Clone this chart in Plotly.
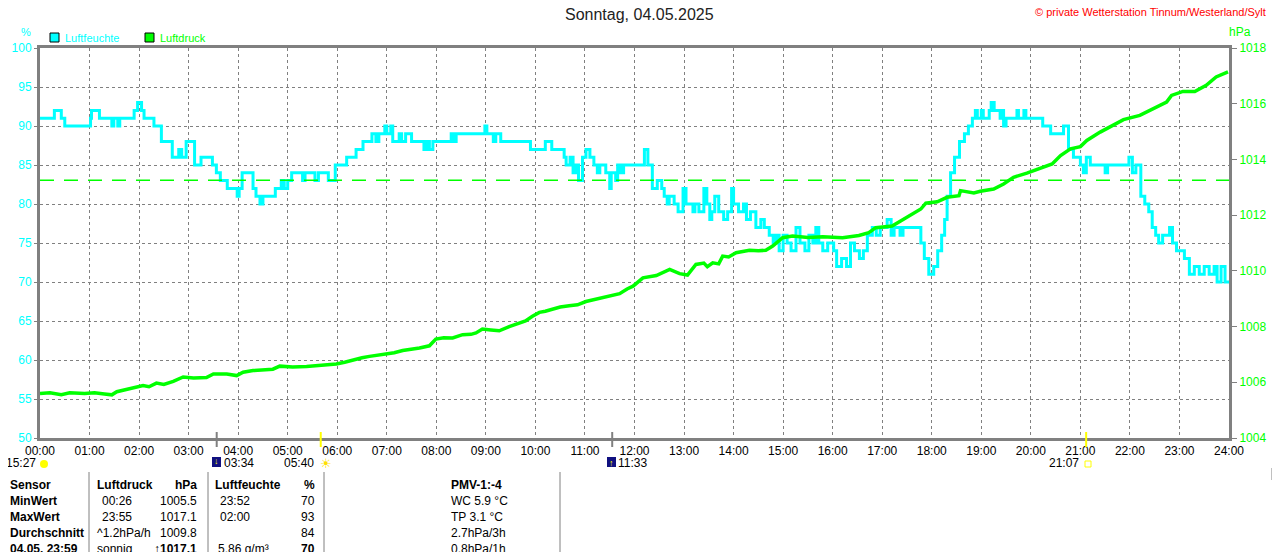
import plotly.graph_objects as go

# Humidity (%) - step values, time in hours
hum_t = [0.00, 0.29, 0.43, 0.50, 1.02, 1.04, 1.20, 1.45, 1.49, 1.57, 1.61, 1.90, 1.97, 2.05, 2.10,
         2.30, 2.45, 2.67, 2.80, 2.86, 2.95, 3.12, 3.25, 3.48, 3.56, 3.64, 3.78, 3.98, 4.02, 4.08,
         4.30, 4.36, 4.44, 4.50, 4.75, 4.87, 4.93, 5.00, 5.08, 5.30, 5.35, 5.55, 5.62, 5.82, 5.96,
         6.19, 6.38, 6.52, 6.70, 6.78, 6.84, 6.96, 7.00, 7.08, 7.12, 7.25, 7.30, 7.38, 7.50, 7.75,
         7.80, 7.86, 7.93, 8.30, 8.34, 8.40, 8.98, 9.02, 9.15, 9.20, 9.30, 9.90, 10.20, 10.33, 10.58,
         10.62, 10.70, 10.76, 10.82, 10.87, 10.95, 11.02, 11.10, 11.18, 11.25, 11.30, 11.42, 11.50, 11.53, 11.62,
         11.66, 11.72, 11.78, 12.20, 12.27, 12.36, 12.46, 12.55, 12.60, 12.66, 12.70, 12.80, 12.88, 12.98, 13.04,
         13.18, 13.22, 13.30, 13.40, 13.46, 13.52, 13.56, 13.62, 13.70, 13.80, 13.88, 13.96, 14.00, 14.10, 14.20,
         14.26, 14.34, 14.45, 14.55, 14.62, 14.72, 14.80, 14.86, 14.92, 15.00, 15.08, 15.16, 15.26, 15.34, 15.44,
         15.52, 15.60, 15.66, 15.72, 15.80, 15.90, 16.02, 16.08, 16.18, 16.28, 16.36, 16.44, 16.54, 16.62, 16.70,
         16.80, 16.88, 16.96, 17.10, 17.18, 17.24, 17.36, 17.42, 17.78, 17.85, 17.94, 18.04, 18.12, 18.20, 18.26,
         18.31, 18.38, 18.46, 18.56, 18.66, 18.74, 18.82, 18.88, 18.92, 19.00, 19.04, 19.16, 19.20, 19.26, 19.38,
         19.42, 19.45, 19.50, 19.72, 19.75, 19.86, 19.90, 20.24, 20.40, 20.66, 20.76, 20.86, 21.00, 21.06, 21.12,
         21.20, 21.50, 21.55, 21.98, 22.05, 22.12, 22.22, 22.30, 22.38, 22.45, 22.52, 22.58, 22.66, 22.80, 22.86,
         22.94, 23.10, 23.20, 23.30, 23.40, 23.50, 23.60, 23.70, 23.76, 23.84, 23.92, 24.00]
hum_v = [91, 92, 91, 90, 91, 92, 91, 90, 91, 90, 91, 92, 93, 92, 91,
         90, 88, 86, 87, 86, 88, 85, 86, 85, 84, 83, 82, 81, 82, 84,
         82, 81, 80, 81, 82, 83, 82, 83, 84, 83, 84, 83, 84, 83, 85,
         86, 87, 88, 89, 88, 89, 90, 89, 90, 88, 89, 88, 89, 88, 87,
         88, 87, 88, 89, 88, 89, 90, 89, 88, 89, 88, 87, 88, 87, 86,
         85, 86, 84, 85, 83, 86, 87, 86, 85, 84, 85, 84, 82, 84, 83,
         85, 84, 85, 87, 85, 82, 83, 82, 81, 80, 81, 80, 79, 82, 80,
         79, 80, 79, 82, 80, 78, 79, 81, 79, 78, 79, 82, 80, 79, 80,
         78, 79, 77, 78, 77, 76, 75, 76, 74, 76, 75, 74, 77, 75, 74,
         76, 75, 77, 75, 74, 75, 74, 72, 73, 72, 75, 74, 73, 74, 76,
         77, 76, 77, 78, 76, 77, 76, 77, 75, 73, 71, 72, 74, 76, 78,
         81, 84, 86, 88, 89, 90, 91, 92, 91, 92, 91, 92, 93, 92, 91,
         92, 90, 91, 92, 91, 92, 91, 90, 89, 90, 87, 86, 85, 84, 86,
         85, 84, 85, 86, 84, 85, 81, 80, 79, 77, 76, 75, 76, 77, 75,
         74, 73, 71, 72, 71, 72, 71, 72, 70, 72, 70, 70]

# Air pressure (hPa)
pr_t = [0.00, 0.20, 0.43, 0.60, 0.90, 1.10, 1.30, 1.45, 1.55, 1.81, 2.08, 2.20, 2.35, 2.50, 2.69,
        2.89, 3.10, 3.36, 3.50, 3.77, 3.97, 4.10, 4.30, 4.55, 4.70, 4.84, 5.10, 5.38, 5.60, 5.78,
        5.98, 6.15, 6.32, 6.50, 6.65, 6.85, 6.99, 7.15, 7.32, 7.50, 7.66, 7.86, 7.99, 8.15, 8.33,
        8.53, 8.70, 8.80, 8.93, 9.10, 9.27, 9.47, 9.67, 9.80, 9.94, 10.08, 10.20, 10.35, 10.50, 10.68,
        10.85, 11.02, 11.20, 11.36, 11.50, 11.70, 11.85, 11.97, 12.17, 12.44, 12.71, 12.91, 13.07, 13.24, 13.40,
        13.47, 13.58, 13.70, 13.78, 13.90, 14.05, 14.32, 14.50, 14.65, 14.79, 14.99, 15.19, 15.50, 15.80, 16.20,
        16.53, 16.73, 16.87, 17.20, 17.38, 17.54, 17.78, 17.88, 18.11, 18.31, 18.55, 18.58, 18.85, 18.98, 19.25,
        19.45, 19.65, 19.92, 20.19, 20.43, 20.60, 20.80, 21.00, 21.13, 21.40, 21.67, 21.87, 22.20, 22.47, 22.74,
        22.84, 23.07, 23.31, 23.54, 23.74, 23.98]
pr_v = [1005.60, 1005.62, 1005.55, 1005.62, 1005.60, 1005.62, 1005.58, 1005.55, 1005.66, 1005.77, 1005.88, 1005.84, 1005.97, 1005.92, 1006.03,
        1006.19, 1006.15, 1006.17, 1006.30, 1006.30, 1006.24, 1006.36, 1006.42, 1006.45, 1006.47, 1006.58, 1006.55, 1006.57, 1006.60, 1006.64,
        1006.66, 1006.72, 1006.81, 1006.88, 1006.93, 1006.98, 1007.00, 1007.06, 1007.14, 1007.18, 1007.23, 1007.31, 1007.55, 1007.60, 1007.59,
        1007.71, 1007.72, 1007.77, 1007.91, 1007.88, 1007.85, 1008.00, 1008.13, 1008.20, 1008.37, 1008.51, 1008.55, 1008.63, 1008.70, 1008.75,
        1008.78, 1008.90, 1008.98, 1009.03, 1009.09, 1009.18, 1009.35, 1009.45, 1009.75, 1009.83, 1010.05, 1009.90, 1009.85, 1010.23, 1010.28,
        1010.15, 1010.29, 1010.25, 1010.53, 1010.50, 1010.65, 1010.74, 1010.72, 1010.74, 1010.89, 1011.19, 1011.25, 1011.20, 1011.22, 1011.19,
        1011.27, 1011.37, 1011.55, 1011.61, 1011.80, 1011.97, 1012.22, 1012.43, 1012.48, 1012.64, 1012.70, 1012.88, 1012.80, 1012.86, 1012.94,
        1013.12, 1013.36, 1013.51, 1013.68, 1013.84, 1014.14, 1014.38, 1014.46, 1014.68, 1014.98, 1015.22, 1015.43, 1015.58, 1015.82, 1016.06,
        1016.30, 1016.44, 1016.44, 1016.66, 1016.96, 1017.14]

norm_pressure = 1013.25
hours = list(range(25))
hour_labels = [f"{h:02d}:00" for h in hours]
left_ticks = [50, 55, 60, 65, 70, 75, 80, 85, 90, 95, 100]
right_ticks = [1004, 1006, 1008, 1010, 1012, 1014, 1016, 1018]

# sun / moon events (hours)
moon_set = 3 + 34 / 60
moon_rise = 11 + 33 / 60
sun_rise = 5 + 40 / 60
sun_set = 21 + 7 / 60

table_rows = [
    ["Sensor", "Luftdruck", "hPa", "Luftfeuchte", "%", "PMV-1:-4"],
    ["MinWert", "00:26", "1005.5", "23:52", "70", "WC 5.9 °C"],
    ["MaxWert", "23:55", "1017.1", "02:00", "93", "TP 3.1 °C"],
    ["Durchschnitt", "^1.2hPa/h", "1009.8", "", "84", "2.7hPa/3h"],
    ["04.05. 23:59", "sonnig", "↑1017.1", "5.86 g/m³", "70", "0.8hPa/1h"],
]

# the page puts the plot 8px in from the top-left, so the figure is 8px smaller
OFF = 8
W, H = 1280 - OFF, 552 - OFF
CYAN = "#00FFFF"
GREEN = "#00FF00"
GRAY = "#808080"
FONT = "Liberation Sans, Arial, sans-serif"


def px(x):
    return (x - OFF) / W


def py(y):
    return 1 - (y - OFF) / H


fig = go.Figure()
fig.add_trace(go.Scatter(x=hum_t, y=hum_v, mode="lines", line=dict(color=CYAN, width=3, shape="hv"),
                         name="Luftfeuchte", yaxis="y"))
fig.add_trace(go.Scatter(x=pr_t, y=pr_v, mode="lines", line=dict(color=GREEN, width=3.5),
                         name="Luftdruck", yaxis="y2"))

fig.update_layout(
    width=W, height=H,
    margin=dict(l=0, r=0, t=0, b=0, pad=0, autoexpand=False),
    paper_bgcolor="white", plot_bgcolor="white",
    showlegend=False,
    font=dict(family=FONT, size=12, color="black"),
    xaxis=dict(domain=[px(40), px(1229)], range=[0, 24], tickvals=hours, ticktext=hour_labels,
               showgrid=True, gridcolor=GRAY, griddash="3px,3px", gridwidth=1,
               showline=True, linecolor=GRAY, linewidth=3, mirror=True, ticks="",
               zeroline=False, automargin=False, tickfont=dict(size=12, color="black")),
    yaxis=dict(domain=[py(438), py(48)], range=[50, 100], tickvals=left_ticks,
               showgrid=True, gridcolor=GRAY, griddash="3px,3px", gridwidth=1,
               showline=True, linecolor=GRAY, linewidth=3, mirror=False,
               ticks="outside", ticklen=3, tickcolor=GRAY, zeroline=False, automargin=False,
               tickfont=dict(size=12, color=CYAN)),
    yaxis2=dict(domain=[py(438), py(48)], range=[1004, 1018], tickvals=right_ticks, overlaying="y",
                side="right", anchor="x", showgrid=False, showline=True, linecolor=GRAY, linewidth=3,
                ticks="outside", ticklen=5, tickcolor=GRAY, zeroline=False, automargin=False,
                tickfont=dict(size=12, color=GREEN)),
)

shapes = []
# normal pressure line
shapes.append(dict(type="line", xref="x", yref="y2", x0=0, x1=24, y0=norm_pressure, y1=norm_pressure,
                   line=dict(color=GREEN, width=1.5, dash="14px,10px")))
# moon / sun markers on the time axis
for t, c in [(moon_set, GRAY), (moon_rise, GRAY), (sun_rise, "#FFFF00"), (sun_set, "#FFFF00")]:
    shapes.append(dict(type="line", xref="x", yref="paper", x0=t, x1=t, y0=py(447), y1=py(432),
                       line=dict(color=c, width=2)))
# legend boxes
for x0, c in [(50, CYAN), (145, GREEN)]:
    shapes.append(dict(type="rect", xref="paper", yref="paper", x0=px(x0), x1=px(x0 + 9), y0=py(42), y1=py(33),
                       fillcolor=c, line=dict(color="black", width=1)))
# icons under the axis
shapes.append(dict(type="circle", xref="paper", yref="paper", x0=px(40), x1=px(48), y0=py(468), y1=py(460),
                   fillcolor="#FFFF00", line=dict(width=0)))
for x0 in [212, 607]:
    shapes.append(dict(type="rect", xref="paper", yref="paper", x0=px(x0), x1=px(x0 + 9), y0=py(467), y1=py(457),
                       fillcolor="#101080", line=dict(width=0)))
shapes.append(dict(type="rect", xref="paper", yref="paper", x0=px(1085), x1=px(1091), y0=py(467), y1=py(461),
                   line=dict(color="#FFFF00", width=1)))
# table grid
for x in [89, 208, 324, 560]:
    shapes.append(dict(type="line", xref="paper", yref="paper", x0=px(x), x1=px(x), y0=py(552), y1=py(472),
                       line=dict(color=GRAY, width=1)))
# piece of the neighbouring chart at the right edge
shapes.append(dict(type="line", xref="paper", yref="paper", x0=px(1272), x1=px(1280), y0=py(47), y1=py(47),
                   line=dict(color=GRAY, width=3)))
for y in [124, 200, 277, 353]:
    shapes.append(dict(type="line", xref="paper", yref="paper", x0=px(1273), x1=px(1280), y0=py(y), y1=py(y),
                       line=dict(color=GRAY, width=1, dash="2px,3px")))
shapes.append(dict(type="line", xref="paper", yref="paper", x0=px(1273), x1=px(1278), y0=py(308), y1=py(308),
                   line=dict(color=GREEN, width=1.5)))
shapes.append(dict(type="line", xref="paper", yref="paper", x0=px(1273), x1=px(1280), y0=py(420), y1=py(419),
                   line=dict(color=GREEN, width=4)))
shapes.append(dict(type="path", xref="paper", yref="paper",
                   path=f"M {px(1274)} {py(428)} L {px(1275)} {py(456)} L {px(1277)} {py(446)} L {px(1279)} {py(474)}",
                   line=dict(color=CYAN, width=2.5)))
shapes.append(dict(type="line", xref="paper", yref="paper", x0=px(1272), x1=px(1272), y0=py(480), y1=py(468),
                   line=dict(color=GRAY, width=1)))
fig.update_layout(shapes=shapes)

ann = []


def text(x, y, s, color="black", size=12, xanchor="left", bold=False):
    if bold:
        s = f"<b>{s}</b>"
    ann.append(dict(xref="paper", yref="paper", x=px(x), y=py(y), text=s, showarrow=False,
                    xanchor=xanchor, yanchor="middle", font=dict(family=FONT, size=size, color=color)))


text(639, 15, "Sonntag, 04.05.2025", color="#222222", size=16, xanchor="center")
text(1268, 12, "© private Wetterstation Tinnum/Westerland/Sylt", color="#FF0000", size=11, xanchor="right")
text(26, 32, "%", color=CYAN, size=11, xanchor="center")
text(1240, 32, "hPa", color=GREEN, size=12, xanchor="center")
text(63, 38, "Luftfeuchte", color=CYAN, size=11)
text(158, 38, "Luftdruck", color=GREEN, size=11)

# sun / moon times
text(38, 463, "15:27", xanchor="right")
text(222, 463, "03:34")
text(316, 463, "05:40", xanchor="right")
text(326, 463, "☀", color="#FFE000", size=13, xanchor="center")
text(216, 461, "↓", color="#FFFF00", size=9, xanchor="center")
text(611, 463, "↑", color="#FFFF00", size=9, xanchor="center")
text(616, 463, "11:33")
text(1081, 463, "21:07", xanchor="right")

# data table
row_y = [485, 501, 517, 533, 549]
for i, row in enumerate(table_rows):
    y = row_y[i]
    head = i == 0
    text(8, y, row[0], bold=True)
    text(95 if head or i >= 3 else 100, y, row[1], bold=head)
    text(199, y, row[2], xanchor="right", bold=head or i == 4)
    text(213 if head else (216 if i == 4 else 218), y, row[3], bold=head)
    text(317, y, row[4], xanchor="right", bold=head or i == 4)
    text(449, y, row[5], bold=head)

fig.update_layout(annotations=ann)
fig.write_html("out.html")
